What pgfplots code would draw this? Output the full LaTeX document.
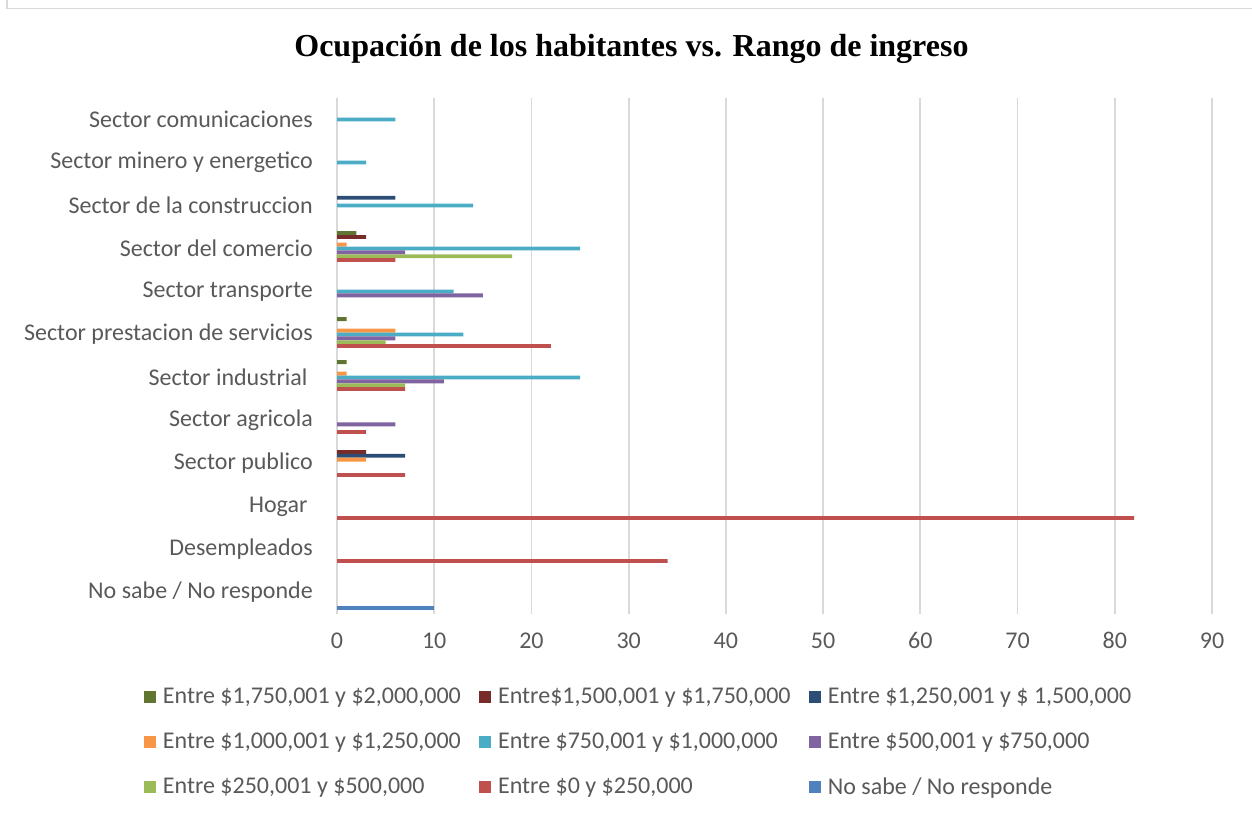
\documentclass[border=0pt]{standalone}
\usepackage{pgfplots}
\pgfplotsset{compat=1.18}
\usepackage{fontspec}
\setmainfont{Carlito}
\newfontfamily\titlefont{Liberation Serif}
\definecolor{cNS}{HTML}{4F81BD}
\definecolor{cA}{HTML}{C0504D}
\definecolor{cB}{HTML}{9BBB59}
\definecolor{cC}{HTML}{8064A2}
\definecolor{cD}{HTML}{4BACC6}
\definecolor{cE}{HTML}{F79646}
\definecolor{cF}{HTML}{2C4D75}
\definecolor{cG}{HTML}{772C2A}
\definecolor{cH}{HTML}{5F7530}
\definecolor{txt}{HTML}{595959}
\definecolor{grd}{HTML}{D9D9D9}
\begin{document}
\begin{tikzpicture}
\useasboundingbox (0pt,0pt) rectangle (939pt,612pt);
\draw[grd,line width=1.4pt] (5.25pt,612pt) -- (5.25pt,605.6pt) -- (939pt,605.6pt);
\begin{axis}[
  at={(252.75pt,151.5pt)}, anchor=south west,
  scale only axis, width=656.25pt, height=387pt,
  xbar, bar width=0.0893,
  xmin=0, xmax=90, xtick distance=10,
  ymin=-0.5, ymax=11.5,
  ytick={0,...,11},
  yticklabels={No sabe / No responde, Desempleados, Hogar\hspace*{4pt}, Sector publico, Sector agricola, Sector industrial\hspace*{4pt}, Sector prestacion de servicios, Sector transporte, Sector del comercio, Sector de la construccion, Sector minero y energetico, Sector comunicaciones},
  axis line style={draw=none},
  major tick length=0pt,
  xmajorgrids, major grid style={grd, line width=1.4pt},
  ymajorgrids=false,
  /pgf/number format/assume math mode=true,
  tick label style={font=\fontsize{18}{21}\selectfont, text=txt},
  xticklabel style={inner sep=0pt, anchor=base, yshift=-26pt},
  yticklabel style={inner sep=0pt, xshift=-18pt},
  legend columns=3,
  legend cell align=left,
  legend style={draw=none, inner sep=0pt, at={(-0.2206,-0.1375)}, anchor=north west,
    font=\fontsize{18}{21}\selectfont, text=txt,
    /tikz/every even column/.append style={column sep=12pt},
    row sep=16.5pt},
  legend image code/.code={\fill[#1] (0pt,-4.5pt) rectangle (9pt,4.5pt); \path (12pt,0pt);},
  every axis plot/.append style={draw=none},
  clip=false,
]
\addplot[fill=cH, bar shift=0.3572] coordinates {(1,5) (1,6) (2,8)};
\addlegendentry{Entre \$1,750,001 y \$2,000,000}
\addplot[fill=cG, bar shift=0.2679] coordinates {(3,3) (3,8)};
\addlegendentry{Entre\$1,500,001 y \$1,750,000}
\addplot[fill=cF, bar shift=0.1786] coordinates {(7,3) (6,9)};
\addlegendentry{Entre \$1,250,001 y \$ 1,500,000}
\addplot[fill=cE, bar shift=0.0893] coordinates {(3,3) (1,5) (6,6) (1,8)};
\addlegendentry{Entre \$1,000,001 y \$1,250,000}
\addplot[fill=cD, bar shift=0] coordinates {(25,5) (13,6) (12,7) (25,8) (14,9) (3,10) (6,11)};
\addlegendentry{Entre \$750,001 y \$1,000,000}
\addplot[fill=cC, bar shift=-0.0893] coordinates {(6,4) (11,5) (6,6) (15,7) (7,8)};
\addlegendentry{Entre \$500,001 y \$750,000}
\addplot[fill=cB, bar shift=-0.1786] coordinates {(7,5) (5,6) (18,8)};
\addlegendentry{Entre \$250,001 y \$500,000}
\addplot[fill=cA, bar shift=-0.2679] coordinates {(34,1) (82,2) (7,3) (3,4) (7,5) (22,6) (6,8)};
\addlegendentry{Entre \$0 y \$250,000}
\addplot[fill=cNS, bar shift=-0.3572] coordinates {(10,0)};
\addlegendentry{No sabe / No responde}
\end{axis}
\node[font=\titlefont\bfseries\fontsize{24}{28}\selectfont, text=black] at (473.6pt,575pt) {Ocupación de los habitantes vs. Rango de ingreso};
\end{tikzpicture}
\end{document}
